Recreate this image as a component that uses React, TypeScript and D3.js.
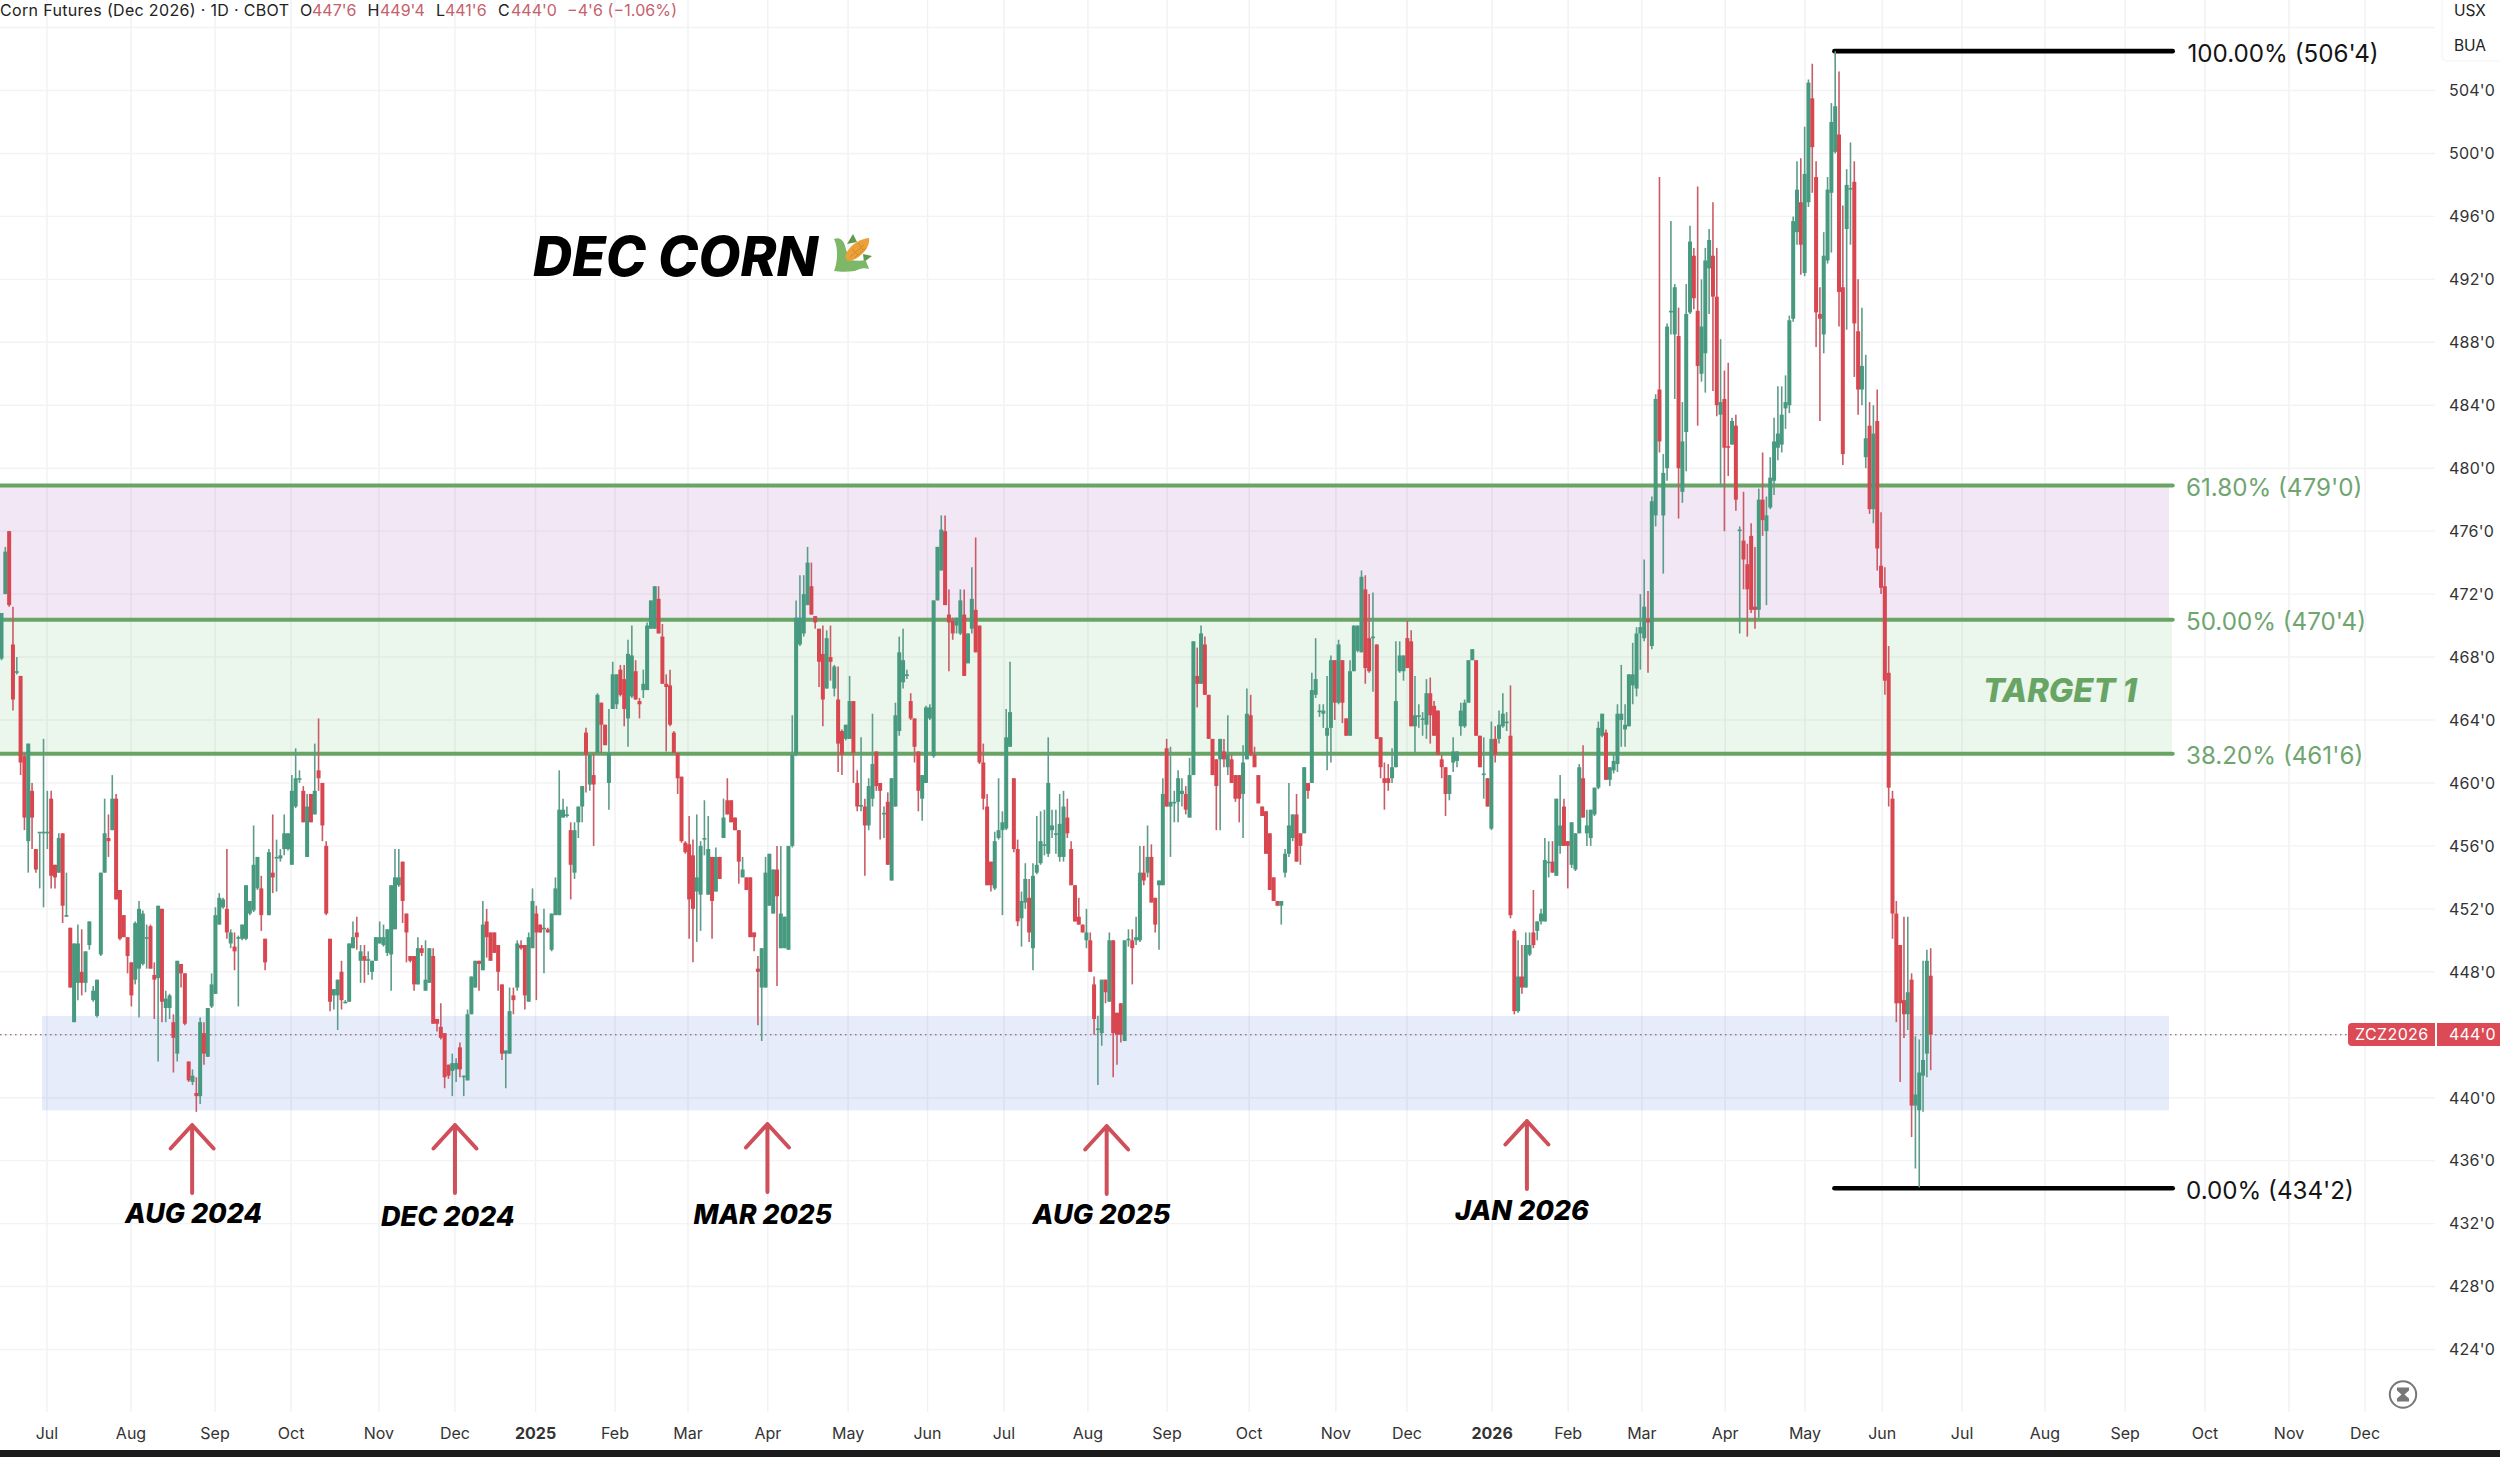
import React from "react";
import * as d3 from "d3";

type Bar = number[]; // open, high, low, close

const bars2024a: Bar[] = [
[467.9,470.8,467.8,470.8],[472.0,475.0,472.0,474.7],[476.0,476.0,471.2,471.3],[468.8,471.2,464.6,465.3],[467.0,468.0,466.9,467.1],
[466.8,466.8,460.5,461.3],[461.7,461.9,457.0,457.8],[456.3,462.5,454.3,462.5],[459.5,460.0,455.8,457.8],[455.8,455.8,454.3,454.5],
[456.8,456.8,453.3,456.9],[456.8,462.8,452.1,456.9],[456.8,459.5,455.8,456.9],[459.0,459.5,453.3,454.1],[454.8,454.8,453.3,454.0],
[454.3,456.8,454.3,456.5],[456.8,456.8,451.1,452.2],[451.5,454.3,451.5,451.6],[450.8,450.8,447.0,447.0],[444.8,449.8,444.8,449.8],
[447.3,451.0,446.2,449.8],[448.0,450.7,446.5,447.3],[447.3,449.3,446.7,449.3],[449.7,451.2,449.4,451.2],[446.2,447.1,446.1,446.8],
[445.2,447.5,445.1,447.5],[449.1,454.3,449.0,454.3],[454.3,459.0,454.3,456.8],[456.5,458.0,455.3,456.3],[457.0,460.5,457.0,459.0],
[459.0,459.3,452.6,452.6],[453.2,453.2,450.0,450.1],[451.6,451.6,450.2,450.2],[450.2,450.2,447.9,449.0],[448.6,448.6,445.8,446.5],
[447.5,451.2,447.2,451.1],[448.2,452.5,445.1,452.0],[448.5,451.9,448.4,451.7],[450.1,451.0,448.2,450.2],[450.9,451.0,448.2,448.2],
[447.8,448.6,445.0,447.5],[447.6,452.2,442.3,452.2],[452.0,452.0,444.8,446.1],[445.7,446.8,444.8,446.3],[445.7,446.6,445.0,446.5],
[444.8,445.3,441.6,443.8],[442.8,448.7,442.3,448.7],[448.5,448.5,447.0,447.9],[447.9,447.9,444.6,444.7],[442.3,442.3,441.0,441.1],
[441.0,441.8,440.8,441.4],[440.3,441.3,439.1,440.1],[440.1,445.1,439.6,444.8],[444.1,444.8,442.1,442.8],[442.6,445.7,442.6,445.7],
[445.8,447.9,445.7,447.2],[446.6,452.1,446.6,451.6],[451.0,453.0,451.0,452.7],[452.1,452.7,452.0,452.6],[452.0,455.8,450.1,450.5],
[449.8,450.7,449.5,450.5],[449.6,450.5,448.1,449.3],[450.1,450.3,445.8,450.2],[450.1,451.0,450.0,451.0],[450.1,453.5,450.0,453.5],
[451.7,452.5,451.6,452.5],[451.9,457.3,451.8,454.8],[453.3,455.3,453.2,455.3],[453.3,454.1,450.6,451.6],[450.1,450.1,448.1,448.6],
];
const bars2024b: Bar[] = [
[451.6,455.8,451.6,455.6],[454.3,458.0,453.0,454.0],[455.2,456.4,453.1,455.3],[455.2,455.8,455.0,455.4],[455.8,458.0,455.4,456.8],
[455.8,456.8,455.7,456.8],[454.8,460.5,454.8,459.5],[458.5,462.2,458.4,460.3],[460.2,460.8,460.0,460.3],[459.5,459.8,457.5,457.5],
[455.3,459.3,455.3,458.5],[459.3,459.3,457.5,457.5],[458.0,462.5,458.0,459.5],[460.8,464.1,459.5,460.3],[460.0,460.0,456.3,457.3],
[456.0,456.3,451.6,451.7],[450.1,450.1,445.5,446.1],[446.5,446.9,445.6,446.9],[446.5,447.5,444.3,447.5],[448.0,448.7,445.6,446.2],
[446.0,446.2,446.0,446.1],[446.1,449.8,446.1,449.8],[449.5,451.2,449.5,450.2],[450.5,451.5,449.4,450.2],[448.7,449.7,447.3,449.3],
[449.0,449.7,447.3,448.7],[448.7,449.3,447.8,448.8],[448.0,448.7,447.5,448.7],[448.7,450.2,448.7,450.2],[449.8,451.2,449.8,450.2],
[449.7,451.0,449.6,450.2],[449.2,450.7,449.0,450.7],[449.1,453.5,446.8,453.5],[450.7,455.8,450.7,454.0],[453.5,455.8,453.4,454.0],
[455.0,455.0,451.1,452.5],[451.7,451.7,448.6,450.5],[449.0,449.0,448.6,448.7],[449.0,449.0,446.8,447.2],[447.2,450.2,447.2,449.5],
[449.5,449.7,449.0,449.2],[446.8,450.0,446.8,447.5],[447.3,449.5,447.3,449.5],[449.0,449.5,444.7,444.7],[445.0,445.0,444.2,444.7],
[444.5,446.0,443.7,443.8],[444.1,444.1,440.6,441.3],[442.1,442.1,441.2,441.4],[441.7,442.8,440.1,442.2],[441.8,442.5,441.0,442.2],
[443.2,443.5,441.3,441.8],[441.3,441.4,440.1,441.4],[441.1,445.6,441.1,445.3],[445.3,447.7,445.3,447.7],[447.0,448.7,447.0,448.7],
[448.7,448.7,446.8,448.5],[448.1,452.5,448.1,451.0],[451.2,452.0,448.9,450.2],[450.5,450.5,448.7,448.7],[450.5,450.5,449.2,449.2],
[449.7,449.7,446.8,448.0],[447.2,447.2,442.4,442.8],[442.8,443.0,440.6,443.0],[442.8,447.0,442.8,445.5],[446.5,447.0,445.3,446.2],
[447.0,450.0,446.8,449.8],[449.7,450.0,449.4,449.5],[449.7,449.7,445.6,446.5],
];
const bars2025a: Bar[] = [
[446.1,450.5,446.1,450.2],[449.5,453.3,449.5,452.5],[451.7,452.2,446.2,450.5],[451.0,451.0,450.5,450.5],[450.7,452.0,447.9,450.8],
[450.7,450.8,450.5,450.5],[449.4,451.7,449.3,451.7],[451.6,454.0,451.6,453.3],[451.6,460.8,451.6,458.3],[457.8,459.0,457.8,458.3],
[458.0,458.5,457.8,458.0],[457.0,457.5,452.6,454.8],[454.3,457.5,453.9,457.0],[457.5,458.5,456.5,458.5],[458.5,459.8,457.5,459.8],
[463.2,463.5,459.4,461.8],[459.9,461.8,459.5,461.8],[460.5,461.9,456.0,459.9],[461.9,465.7,461.9,465.6],[465.1,465.1,461.9,463.7],
[463.7,463.7,462.4,462.4],[460.0,464.7,458.3,461.9],[464.7,467.7,464.7,466.9],[465.0,466.9,464.7,466.9],[467.2,467.5,465.5,465.6],
[466.6,467.5,463.6,464.7],[464.1,469.1,462.3,468.2],[465.5,470.0,465.4,468.1],[467.1,467.8,465.3,465.3],[465.2,465.4,464.1,465.0],
[465.9,467.2,465.4,466.3],[465.9,470.2,465.9,470.0],[469.8,471.6,469.8,471.6],[469.8,472.5,469.8,472.5],[471.7,472.5,469.5,469.5],
[469.3,470.1,466.3,466.3],[466.3,466.9,462.0,466.1],[466.2,467.2,463.6,463.7],[463.2,463.3,461.9,461.9],[461.9,461.9,459.3,460.3],
[460.4,460.4,456.2,456.3],[456.2,456.3,455.5,455.6],[456.1,457.9,450.1,452.6],[455.4,456.4,448.6,452.0],[453.1,458.0,449.9,454.0],
[452.9,456.3,450.6,456.0],[456.4,458.9,455.4,456.5],[452.9,457.9,452.9,455.8],[455.3,455.3,450.1,452.5],[453.1,455.9,453.1,455.3],
[455.3,455.3,453.9,453.9],[456.5,459.0,456.5,457.8],[458.9,460.3,458.0,458.0],[458.9,458.9,457.5,457.5],[457.8,457.8,457.0,457.0],
[457.0,457.0,453.6,455.0],[454.0,455.3,454.0,454.5],[454.0,454.0,453.2,453.2],[454.0,454.0,450.2,450.2],[450.5,450.5,449.3,450.2],
[448.2,449.0,444.6,448.0],[447.0,449.5,443.6,449.5],[447.0,455.3,447.0,454.3],[452.2,455.5,452.2,455.5],[451.7,454.5,451.7,454.5],
[454.5,456.0,447.1,452.8],[449.5,456.0,449.5,451.7],[449.5,451.5,449.5,451.5],[449.4,456.0,449.4,456.0],[456.0,464.3,455.9,461.8],
[461.8,471.6,461.7,470.5],
];
const bars2025b: Bar[] = [
[468.8,473.2,468.7,470.5],[469.5,473.2,469.3,472.0],[471.3,475.0,471.3,474.0],[472.5,474.0,470.7,470.7],[470.6,470.6,469.8,470.2],
[469.8,469.8,466.1,467.7],[468.2,470.0,463.6,465.3],[466.0,469.7,466.0,469.2],[468.0,470.0,466.5,467.7],[466.0,467.5,465.5,467.4],
[465.3,467.4,460.7,462.5],[463.3,463.4,460.5,461.8],[462.8,463.7,462.7,463.7],[462.8,466.8,462.8,465.2],[465.2,465.2,460.0,461.9],
[460.0,460.8,458.2,458.5],[458.5,462.9,458.2,458.6],[458.5,459.0,454.1,457.3],[457.3,460.3,457.0,459.8],[459.0,464.4,458.5,461.2],
[462.0,462.0,459.5,459.8],[460.0,460.0,456.4,459.5],[458.0,458.5,456.5,458.1],[458.8,459.4,454.8,454.8],[453.8,460.3,453.8,460.3],
[458.5,465.1,458.5,464.3],[463.3,469.3,463.0,468.3],[466.4,469.8,466.0,467.8],[466.8,467.2,466.6,466.9],[465.2,465.7,464.0,464.1],
[464.1,464.1,461.3,462.3],[462.0,462.0,458.2,459.5],[459.0,460.5,457.6,460.5],[460.0,464.9,460.0,464.8],[464.1,465.0,464.0,464.8],
[461.7,471.6,461.6,471.6],[471.6,475.0,471.6,475.0],[473.5,477.0,473.5,476.1],[476.0,477.0,471.3,471.3],[470.7,472.3,467.1,470.2],
[470.3,470.5,469.1,469.5],[470.0,470.5,469.5,470.5],[469.5,472.3,469.4,471.6],[470.7,472.3,466.8,466.8],[467.6,469.5,467.6,469.5],
[469.8,473.7,469.5,471.7],[471.0,475.6,468.3,468.3],[470.0,470.0,461.2,461.3],[461.3,462.5,458.3,459.0],[458.5,459.3,453.5,453.5],
[455.0,455.0,453.1,453.5],[453.3,456.9,453.2,456.3],[456.5,460.3,456.4,457.0],[457.0,458.2,451.6,457.5],[457.1,464.7,457.0,462.9],
[462.3,467.7,462.3,464.5],[460.3,460.3,455.6,455.8],[455.8,456.4,450.9,451.2],[451.4,453.1,449.6,452.5],[452.4,454.9,452.0,453.9],
[452.7,453.9,449.9,450.5],[449.5,454.9,448.1,454.1],[454.3,457.9,454.2,454.8],[454.9,458.2,454.8,456.3],[456.0,458.3,455.4,456.1],
[455.5,462.9,455.3,460.0],[457.0,458.3,456.5,457.3],[456.7,458.3,455.5,456.8],[455.3,459.3,455.0,457.4],[455.3,459.5,455.0,458.5],
[457.8,459.0,456.5,456.8],[455.8,456.3,453.5,453.5],[453.5,453.5,451.2,451.2],[451.5,452.7,451.0,451.0],[451.0,451.0,450.5,450.5],
[450.0,452.0,449.5,450.5],[450.0,450.5,448.0,448.0],[447.2,447.7,444.0,445.0],[444.3,445.2,440.8,444.4],[444.1,447.5,443.3,447.5],
[447.5,447.5,446.0,446.7],[446.1,450.5,446.1,450.0],[450.0,450.0,441.3,444.1],[445.4,445.4,442.1,444.0],[446.0,446.0,443.5,444.0],
[443.6,450.0,443.6,450.0],[450.0,450.7,449.6,450.1],[450.0,450.7,447.2,449.5],[450.0,451.5,449.7,450.2],[450.0,456.0,449.9,454.3],
[454.3,456.0,453.5,453.8],[454.3,457.3,454.0,455.3],[455.3,456.1,452.4,452.4],[452.7,452.7,450.5,451.0],[453.5,453.8,449.4,453.8],
[453.5,460.3,453.5,459.3],[462.2,462.8,458.5,458.5],[458.5,462.3,455.3,458.8],[458.7,459.5,457.5,458.8],[458.8,460.8,457.5,460.3],
[459.3,460.3,458.5,459.5],[459.3,459.8,458.0,458.3],[457.8,461.6,457.8,460.5],[460.5,469.0,460.5,469.0],
];
const bars2025c: Bar[] = [
[466.8,468.6,464.8,466.3],[466.3,470.0,466.3,469.5],[468.8,469.3,465.6,465.6],[465.6,465.6,462.8,462.8],[462.8,462.8,460.5,460.5],
[461.5,461.5,457.0,459.8],[461.5,462.8,457.0,462.8],[462.0,462.8,461.0,461.5],[461.0,464.3,460.5,461.8],[461.5,461.8,460.0,460.0],
[460.5,460.5,458.8,459.0],[460.5,460.5,457.5,459.0],[459.3,462.4,456.5,461.3],[461.5,466.0,461.5,464.4],[464.3,465.6,461.7,461.8],
[461.8,462.3,461.0,461.0],[460.5,460.5,458.7,458.7],[458.5,458.5,457.9,457.9],[458.2,458.2,455.5,455.5],[456.8,456.8,453.2,453.2],
[454.0,454.0,452.5,452.5],[452.5,452.5,452.2,452.2],[452.2,452.5,451.0,452.5],[454.3,455.8,454.0,455.5],[455.5,460.0,455.3,457.3],
[456.5,458.0,456.3,458.0],[458.0,459.3,455.0,455.0],[456.8,456.8,454.8,456.0],[456.8,461.0,456.8,461.0],[460.0,460.0,459.0,459.5],
[460.0,467.0,460.0,465.9],[465.6,469.2,465.4,466.6],[464.5,465.0,464.2,464.6],[464.4,465.0,463.5,464.6],[463.0,466.8,460.8,463.5],
[463.5,468.1,461.3,467.8],[467.8,467.8,464.0,465.1],[465.1,469.1,465.0,468.8],[467.8,467.8,463.8,465.1],[464.1,464.1,463.0,463.0],
[463.0,467.8,463.0,467.1],[467.1,470.0,467.1,470.0],[468.4,470.0,468.3,470.0],[468.3,473.5,468.3,473.1],[472.3,473.2,466.3,467.3],
[469.2,472.0,467.0,467.1],[469.2,472.1,465.8,469.3],[468.8,468.8,462.8,462.8],[462.9,462.9,460.3,461.0],[460.3,461.3,458.3,460.0],
[460.3,461.2,459.5,460.0],[460.3,462.2,460.0,461.0],[461.0,469.0,461.0,465.2],[467.1,469.0,467.0,468.1],[467.1,468.1,466.5,468.1],
[469.2,470.3,467.3,467.3],[469.0,469.7,463.6,463.6],[463.6,466.8,461.9,464.3],[464.2,465.0,463.5,464.3],[464.0,464.5,463.0,464.1],
[463.7,466.6,462.8,465.7],[465.7,466.7,462.5,464.3],[464.9,465.2,463.0,463.0],[464.6,464.6,461.8,461.8],[461.5,461.8,460.3,461.0],
[461.0,461.0,457.9,459.3],[459.3,460.5,458.9,460.5],[461.3,462.9,460.7,462.0],[461.4,462.0,461.0,462.0],[463.6,465.1,463.0,464.6],
[463.6,465.3,463.5,465.1],[465.1,467.8,465.1,467.8],[467.8,468.5,467.8,468.5],[467.8,467.8,463.0,463.0],[463.0,463.0,461.0,461.0],
[460.5,462.9,459.0,460.6],[460.3,460.3,458.5,458.5],[457.1,463.9,457.0,462.8],[462.8,463.6,461.3,461.8],[462.8,464.6,462.5,463.7],
[463.6,465.7,463.5,464.4],[463.8,464.5,463.3,463.9],
];
const bars2026a: Bar[] = [
[463.0,466.2,451.4,451.6],[450.6,450.7,445.3,445.5],[445.5,450.0,445.4,447.7],[447.7,449.7,446.6,447.0],[447.0,450.5,447.0,449.7],
[449.1,450.5,449.0,449.7],[450.5,453.2,449.5,449.7],[450.6,451.2,450.0,451.2],[451.2,452.0,451.0,451.7],[451.2,456.5,451.2,455.1],
[454.9,456.3,454.0,455.0],[455.0,456.3,454.3,454.3],[454.1,459.0,454.1,459.0],[456.0,460.5,455.5,457.3],[458.5,459.0,456.0,456.0],
[456.3,456.3,453.3,456.0],[454.8,457.5,454.6,457.5],[454.5,456.8,454.4,456.8],[456.8,461.2,456.8,461.0],[460.3,462.4,457.8,457.8],
[456.8,458.3,456.0,457.3],[456.5,458.3,456.0,458.3],[458.0,459.7,457.9,459.7],[459.7,463.9,459.6,463.5],
[463.0,464.4,462.9,464.4],[463.2,463.4,460.2,460.2],[460.2,461.0,459.8,461.0],[460.8,461.9,460.6,461.4],[461.2,465.0,460.7,464.4],
[464.0,467.5,462.3,464.4],[463.4,465.0,462.3,463.7],[463.6,466.9,463.6,466.9],[466.2,468.9,465.0,466.9],[466.0,469.9,465.5,469.5],
[469.5,472.0,467.2,469.9],[469.2,474.2,469.0,471.2],[470.4,472.2,467.0,470.2],[468.7,478.2,468.5,477.9],
];
const bars2026b: Bar[] = [
[477.0,484.7,476.3,484.4],[485.0,498.5,481.0,481.7],[477.0,480.9,473.3,479.7],[480.0,489.2,479.2,489.0],[489.9,495.7,488.5,490.0],
[488.5,491.7,484.4,491.5],[488.4,490.2,476.8,480.0],[478.5,484.2,477.8,481.7],[482.3,491.7,479.8,489.8],[489.9,495.4,489.8,494.4],
[493.5,494.0,490.1,490.8],[490.0,497.9,482.7,486.5],[486.0,492.0,485.5,489.0],[487.3,494.0,484.8,493.2],[492.7,495.2,489.8,494.5],
[493.5,496.9,484.9,490.9],[490.9,494.0,483.3,484.0],[483.4,488.2,478.8,484.2],[484.4,486.2,476.0,481.3],[481.4,486.7,479.5,481.3],
[481.5,483.2,481.5,483.0],[482.7,483.4,477.3,478.0],[476.0,476.3,469.5,476.1],[475.4,478.5,472.3,474.2],[473.9,475.2,469.3,472.3],
[475.7,476.5,470.8,471.0],[471.2,475.0,469.8,471.0],[471.0,478.7,470.5,478.0],[478.0,481.0,475.7,476.7],[476.0,478.2,471.3,477.0],
[477.5,480.7,477.4,479.4],
];
const bars2026c: Bar[] = [
[479.2,483.2,478.3,481.7],[481.3,485.2,480.5,482.2],[481.5,485.2,481.0,483.4],[483.8,485.9,482.5,484.2],[484.0,489.7,483.5,489.4],
[489.5,496.0,489.3,495.7],[495.0,499.5,494.2,497.7],[496.9,499.7,492.3,494.2],[492.4,501.7,492.2,498.7],[496.9,504.7,496.6,504.5],
[503.5,505.7,497.5,500.4],[498.5,499.5,487.7,489.9],[489.8,491.5,483.0,489.5],[488.5,495.0,487.3,493.5],[493.2,498.5,493.0,497.7],
[497.5,503.2,493.7,502.0],[500.1,506.5,500.0,503.0],[501.2,505.2,489.0,491.2],[491.5,496.7,480.2,480.9],[495.2,499.0,488.8,498.0],
[497.7,500.7,494.2,497.8],[498.2,499.5,485.8,489.2],[488.7,492.0,483.4,485.0],[485.0,490.2,484.0,486.5],[480.7,487.2,480.0,481.9],
[482.7,484.2,477.1,477.4],[477.4,484.0,476.5,482.2],[483.0,485.0,473.5,474.9],[473.8,477.2,472.0,472.4],
];
const bars2026d: Bar[] = [
[472.5,473.7,465.6,466.5],[467.0,468.7,458.5,459.7],[459.0,459.5,450.1,451.7],[451.7,452.5,444.8,446.0],[449.7,449.7,441.0,446.0],
[446.2,451.5,443.8,445.3],[445.3,451.5,444.3,446.7],[447.5,447.9,437.5,439.5],[439.5,443.9,435.5,440.2],[439.2,443.7,434.3,441.6],
[441.4,448.7,439.1,442.4],[442.8,449.4,441.3,448.7],[447.75,449.5,441.75,444.0],
];
const bars: Bar[] = [...bars2024a, ...bars2024b, ...bars2025a, ...bars2025b, ...bars2025c, ...bars2026a, ...bars2026b, ...bars2026c, ...bars2026d];

const monthLabels = ["Jul","Aug","Sep","Oct","Nov","Dec","2025","Feb","Mar","Apr","May","Jun","Jul","Aug","Sep","Oct","Nov","Dec","2026","Feb","Mar","Apr","May","Jun","Jul","Aug","Sep","Oct","Nov","Dec"];
const monthBars = [11.9,33.9,55.9,75.8,98.8,118.7,139.8,160.6,179.7,200.6,221.6,242.4,262.4,284.4,305.1,326.6,349.3,367.9,390.2,410.1,429.4,451.2,472.1,492.3,513.2,534.9,555.9,576.8,598.8,618.7];
const priceTicks = d3.range(424, 505, 4);
const gridExtra = [508];
const fibPrices = [478.9, 470.375, 461.85];
const fibLabels = ["61.80% (479'0)", "50.00% (470'4)", "38.20% (461'6)"];
const fibEnds = [506.5, 434.25];
const fibEndLabels = ["100.00% (506'4)", "0.00% (434'2)"];
const fibStartBar = 479.8;
const lastPrice = 444;
const supportZone = [445.2, 439.2];
const callouts = ["AUG 2024", "DEC 2024", "MAR 2025", "AUG 2025", "JAN 2026"];
const calloutBars = [49.9, 118.7, 200.5, 289.3, 399.3];
const calloutTips = [1125, 1125, 1124, 1126, 1121];
const calloutTextX = [125, 381, 693.6, 1032.6, 1455];
const calloutTextY = [1222.5, 1225.5, 1223.5, 1223.5, 1219.5];
const calloutWidths = [137, 133.5, 138.4, 137.9, 134];
const quote = [["O","447'6",300,312],["H","449'4",367.4,380],["L","441'6",436,445],["C","444'0",498,511]] as [string,string,number,number][];

const UP = "#47997f", DOWN = "#d8474f", UPW = "#5d9c8a", DOWNW = "#c95c66", FIB = "#68a564", FIBT = "#6fa56f", ARROW = "#cf4f5a", FONT = "Inter, 'Noto Sans', sans-serif";

export default function App() {
  const x = d3.scaleLinear().domain([0, 505]).range([1.5, 1930.7]);
  const y = d3.scaleLinear().domain([424, 504]).range([1349.5, 90.5]);
  const fibX0 = x(fibStartBar);
  return (
    <svg width={2500} height={1457} viewBox="0 0 2500 1457" style={{ position: "absolute", left: 0, top: 0, display: "block", background: "#fff" }} fontFamily={FONT}>
      {monthBars.map((m, i) => <line key={i} x1={x(m)} x2={x(m)} y1={0} y2={1412} stroke="#f1f1f4" strokeWidth={1.4} />)}
      {[...gridExtra, ...priceTicks].map(p => <line key={p} x1={0} x2={2435} y1={y(p)} y2={y(p)} stroke="#f3f3f4" strokeWidth={1.4} />)}

      <rect x={0} y={y(fibPrices[0])} width={2169} height={y(fibPrices[1]) - y(fibPrices[0])} fill="#7b1fa2" opacity={0.105} />
      <rect x={0} y={y(fibPrices[1])} width={2172} height={y(fibPrices[2]) - y(fibPrices[1])} fill="#4caf50" opacity={0.11} />
      <rect x={42} y={y(supportZone[0])} width={2127} height={y(supportZone[1]) - y(supportZone[0])} fill="#2255dd" opacity={0.11} />

      {fibPrices.map((p, i) => <line key={i} x1={0} x2={2172.7} y1={y(p)} y2={y(p)} stroke={FIB} strokeWidth={4} strokeLinecap="round" />)}
      {fibEnds.map((p, i) => <line key={i} x1={fibX0} x2={2172.7} y1={y(p)} y2={y(p)} stroke="#000" strokeWidth={4.6} strokeLinecap="round" />)}

      <line x1={0} x2={2348} y1={y(lastPrice)} y2={y(lastPrice)} stroke="#7d4a58" strokeWidth={1} strokeDasharray="1.5 3.5" />

      {bars.map((b, i) => {
        const up = b[3] >= b[0];
        const top = y(Math.max(b[0], b[3])), bot = y(Math.min(b[0], b[3]));
        return (
          <g key={i}>
            <line x1={x(i)} x2={x(i)} y1={y(b[1])} y2={y(b[2])} stroke={up ? UPW : DOWNW} strokeWidth={1.6} />
            <rect x={x(i) - 2} y={top} width={4} height={Math.max(bot - top, 1.6)} fill={up ? UP : DOWN} />
          </g>
        );
      })}

      {fibPrices.map((p, i) => <text key={i} x={2186} y={y(p) + 10.5} fontSize={24.2} fill={FIBT}>{fibLabels[i]}</text>)}
      {fibEnds.map((p, i) => <text key={i} x={i === 0 ? 2187.5 : 2186} y={y(p) + 10.5} fontSize={24.2} fill="#141414">{fibEndLabels[i]}</text>)}
      <text x={1983} y={702} fontSize={32} fontWeight={800} fontStyle="italic" fill={FIB} textLength={154} lengthAdjust="spacingAndGlyphs">TARGET 1</text>

      <text x={533} y={276} fontSize={55} fontWeight={800} fontStyle="italic" fill="#000" textLength={285} lengthAdjust="spacingAndGlyphs">DEC CORN</text>
      <g transform="translate(833,234)">
        <path d="M14 10 L20 0 L24 8 Z" fill="#5c9a4e" />
        <path d="M30 20 L39 22 L31 28 Z" fill="#5c9a4e" />
        <path d="M1 5 C5 3 9 5 11 9 C13 14 14 20 17 26 C23 27 28 27 33 26 C33 29 35 31 36 35 C30 33 26 35 22 37 C15 38 7 38 1 37 C4 30 6 15 1 5 Z" fill="#7db868" />
        <path d="M12 27 C11 20 17 12 24 8 C29 5 34 4 36 4 C37 9 34 16 29 20 C24 25 17 28 12 27 Z" fill="#eca03a" />
        <path d="M17 23 L31 11 M21 24 L33 14 M19 15 L25 21 M25 9 L30 16" stroke="#d08a2d" strokeWidth={1} fill="none" />
        <path d="M8 8 C10 16 11 26 18 30 C22 31 28 29 33 26 C30 33 20 35 12 34 C6 32 5 18 8 8 Z" fill="#7db868" />
      </g>

      {callouts.map((c, i) => {
        const ax = x(calloutBars[i]), t = calloutTips[i];
        return (
          <g key={c}>
            <path d={`M${ax} ${t + 68} L${ax} ${t} M${ax - 21.5} ${t + 23.5} L${ax} ${t} L${ax + 21.5} ${t + 23.5}`} fill="none" stroke={ARROW} strokeWidth={4} strokeLinecap="round" strokeLinejoin="round" />
            <text x={calloutTextX[i]} y={calloutTextY[i]} fontSize={27.5} fontWeight={800} fontStyle="italic" fill="#000" textLength={calloutWidths[i]} lengthAdjust="spacingAndGlyphs">{c}</text>
          </g>
        );
      })}

      <text x={0} y={15.5} fontSize={16} fill="#222" textLength={289} lengthAdjust="spacing">Corn Futures (Dec 2026) · 1D · CBOT</text>
      {quote.map(q => (
        <g key={q[0]}>
          <text x={q[2]} y={15.5} fontSize={16} fill="#222">{q[0]}</text>
          <text x={q[3]} y={15.5} fontSize={16} fill="#c5606c">{q[1]}</text>
        </g>
      ))}
      <text x={567} y={15.5} fontSize={16} fill="#c5606c" textLength={110} lengthAdjust="spacing">−4'6 (−1.06%)</text>

      <rect x={2442} y={-3} width={64} height={64} rx={5} fill="#fff" stroke="#f4f4f5" strokeWidth={1.2} />
      <text x={2470} y={15.5} textAnchor="middle" fontSize={15.5} fill="#222">USX</text>
      <text x={2470} y={50.5} textAnchor="middle" fontSize={15.5} fill="#222">BUA</text>
      {priceTicks.map(p => <text key={p} x={2449} y={y(p) + 5.8} fontSize={16} letterSpacing={0.2} fill="#333">{`${p}'0`}</text>)}

      <path d="M2352 1023 H2435 V1046 H2352 a4 4 0 0 1 -4 -4 V1027 a4 4 0 0 1 4 -4 Z" fill="#dc4a55" />
      <rect x={2437} y={1023} width={63} height={23} fill="#dc4a55" />
      <text x={2355} y={1040} fontSize={16} letterSpacing={0.4} fill="#fff">ZCZ2026</text>
      <text x={2449} y={1040} fontSize={16} letterSpacing={0.2} fill="#fff">{`${lastPrice}'0`}</text>

      {monthLabels.map((m, i) => (
        <text key={i} x={x(monthBars[i])} y={1438.5} textAnchor="middle" fontSize={16} fontWeight={m.length === 4 ? 700 : 400} fill="#333">{m}</text>
      ))}

      <circle cx={2403} cy={1394.5} r={13.2} fill="#fff" stroke="#777" strokeWidth={2} />
      <path d="M2397 1387.5 H2409 V1390.5 L2404.5 1394.5 L2409 1398.5 V1401.5 H2397 V1398.5 L2401.5 1394.5 L2397 1390.5 Z" fill="#777" />

      <rect x={0} y={1450} width={2500} height={7} fill="#1b1b1e" />
    </svg>
  );
}
